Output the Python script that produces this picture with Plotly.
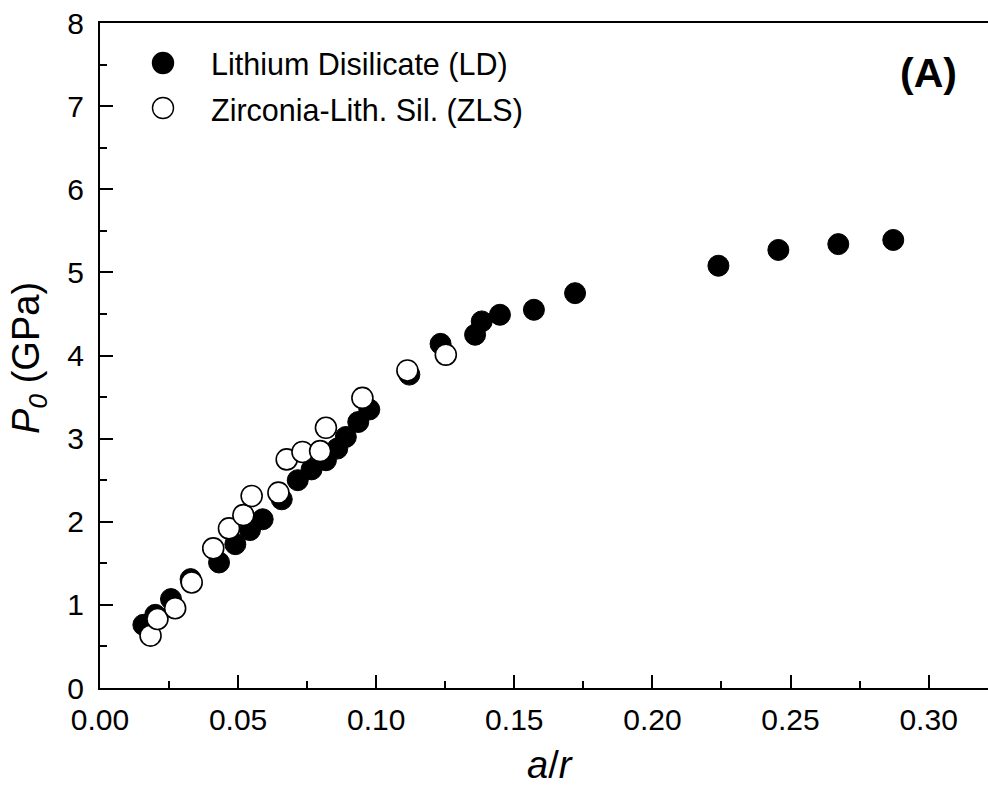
import plotly.graph_objects as go

# Lithium Disilicate (LD) - filled circles
ld_x = [0.0157, 0.0200, 0.0257, 0.0328, 0.0431, 0.0490, 0.0543, 0.0589, 0.0658,
        0.0716, 0.0766, 0.0818, 0.0859, 0.0890, 0.0935, 0.0975, 0.1120, 0.1233,
        0.1358, 0.1382, 0.1448, 0.1571, 0.1720, 0.2239, 0.2456, 0.2673, 0.2872]
ld_y = [0.76, 0.88, 1.07, 1.31, 1.51, 1.73, 1.90, 2.03, 2.27,
        2.50, 2.63, 2.74, 2.88, 3.02, 3.20, 3.35, 3.77, 4.14,
        4.25, 4.41, 4.49, 4.55, 4.75, 5.08, 5.27, 5.34, 5.39]

# Zirconia-Lith. Sil. (ZLS) - open circles
zls_x = [0.0183, 0.0208, 0.0272, 0.0332, 0.0410, 0.0467, 0.0519, 0.0549, 0.0646,
         0.0676, 0.0733, 0.0797, 0.0818, 0.0950, 0.1113, 0.1252]
zls_y = [0.63, 0.83, 0.96, 1.27, 1.68, 1.92, 2.08, 2.31, 2.35,
         2.75, 2.84, 2.85, 3.13, 3.49, 3.82, 4.01]

legend_labels = ["Lithium Disilicate (LD)", "Zirconia-Lith. Sil. (ZLS)"]
panel_label = "(A)"
x_title = "<i>a</i>/<i>r</i>"
y_title = "<i>P</i><sub><i>0</i></sub> (GPa)"

FONT = "Arial, Liberation Sans, sans-serif"

fig = go.Figure()
fig.add_trace(go.Scatter(
    x=ld_x, y=ld_y, mode="markers", name=legend_labels[0], showlegend=False,
    marker=dict(symbol="circle", size=21, color="black", line=dict(color="black", width=1)),
))
fig.add_trace(go.Scatter(
    x=zls_x, y=zls_y, mode="markers", name=legend_labels[1], showlegend=False,
    marker=dict(symbol="circle", size=21, color="white", line=dict(color="black", width=1.6)),
))

W, H = 988, 790
L, R, T, B = 100, 0, 23, 102
pw, ph = W - L - R, H - T - B


def px(x):
    return (x - L) / pw


def py(y):
    return (H - B - y) / ph


shapes = []
annotations = []
# custom legend
leg_rows = [(63, "black"), (108, "white")]
for (cy, fill), label in zip(leg_rows, legend_labels):
    r = 10.5
    shapes.append(dict(type="circle", xref="paper", yref="paper",
                       x0=px(163 - r), x1=px(163 + r), y0=py(cy + r), y1=py(cy - r),
                       fillcolor=fill, line=dict(color="black", width=1.4)))
    annotations.append(dict(text=label, xref="paper", yref="paper", x=px(209), y=py(cy + 2),
                            xanchor="left", yanchor="middle", showarrow=False,
                            font=dict(family=FONT, size=30.5, color="black")))

annotations.append(dict(text="<b>" + panel_label + "</b>", xref="paper", yref="paper",
                        x=px(928), y=py(73), xanchor="center", yanchor="middle",
                        showarrow=False, font=dict(family=FONT, size=41, color="black")))
annotations.append(dict(text=x_title, xref="paper", yref="paper",
                        x=px(550), y=py(765), xanchor="center", yanchor="middle",
                        showarrow=False, font=dict(family=FONT, size=38, color="black")))
annotations.append(dict(text=y_title, xref="paper", yref="paper", textangle=-90,
                        x=px(29), y=py(358), xanchor="center", yanchor="middle",
                        showarrow=False, font=dict(family=FONT, size=38, color="black")))

fig.update_layout(
    width=W, height=H,
    margin=dict(l=L, r=R, t=T, b=B, autoexpand=False),
    paper_bgcolor="white", plot_bgcolor="white",
    font=dict(family=FONT, color="black"),
    shapes=shapes, annotations=annotations,
)
fig.update_xaxes(
    range=[0, 0.3215], dtick=0.05, tick0=0, tickformat=".2f",
    showgrid=False, zeroline=False, automargin=False,
    showline=True, linecolor="black", linewidth=2, mirror=True,
    ticks="inside", ticklen=13, tickwidth=2, tickcolor="black",
    minor=dict(ticks="inside", dtick=0.025, ticklen=7, tickwidth=2, tickcolor="black"),
    tickfont=dict(family=FONT, size=30, color="black"),
    ticklabelstandoff=4,
)
fig.update_yaxes(
    range=[0, 8], dtick=1, tick0=0,
    showgrid=False, zeroline=False, automargin=False,
    showline=True, linecolor="black", linewidth=2,
    ticks="inside", ticklen=13, tickwidth=2, tickcolor="black",
    minor=dict(ticks="inside", dtick=0.5, ticklen=7, tickwidth=2, tickcolor="black"),
    tickfont=dict(family=FONT, size=30, color="black"),
    ticklabelstandoff=8,
)

fig.write_html("out.html", config={"displayModeBar": False},
               post_script="document.body.style.margin='0';document.body.style.overflow='hidden';")
